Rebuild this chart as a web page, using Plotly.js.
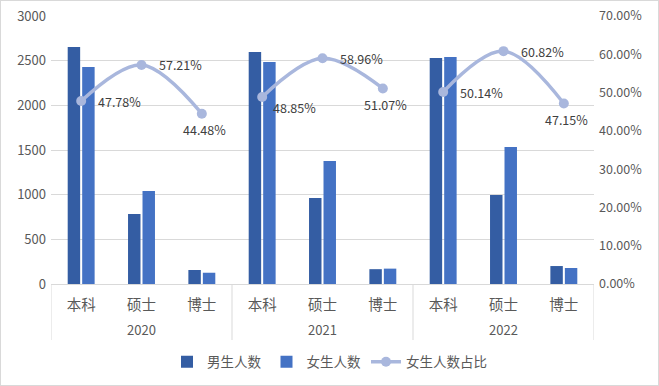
<!DOCTYPE html>
<html>
<head>
<meta charset="utf-8">
<script src="https://cdn.plot.ly/plotly-3.0.1.min.js"></script>
<style>
html,body{margin:0;padding:0;background:#fff;}
#chart{width:659px;height:386px;box-sizing:border-box;border:1px solid #d9d9d9;}
</style>
</head>
<body>
<div id="chart"></div>
<script>
const years = ["2020","2020","2020","2021","2021","2021","2022","2022","2022"];
const levels = ["本科","硕士","博士","本科","硕士","博士","本科","硕士","博士"];
const male = [2653, 784, 157, 2597, 963, 166, 2530, 996, 201];
const female = [2429, 1041, 126, 2485, 1377, 172, 2541, 1534, 179];
const femaleShare = [0.4778, 0.5721, 0.4448, 0.4885, 0.5896, 0.5107, 0.5014, 0.6082, 0.4715];
const shareLabels = ["47.78%","57.21%","44.48%","48.85%","58.96%","51.07%","50.14%","60.82%","47.15%"];
const labelPos = ["right","right","below","belowright","right","below","right","right","below"];

const font = "'Noto Sans CJK SC', 'Liberation Sans', sans-serif";
const idx = levels.map((_, i) => i);
const uniqueYears = [...new Set(years)];

const data = [
  {type:"bar", name:"男生人数", x:idx, y:male, marker:{color:"#345DA3"}},
  {type:"bar", name:"女生人数", x:idx, y:female, marker:{color:"#4472C4"}}
];
uniqueYears.forEach((yr, k) => {
  const ii = idx.filter(i => years[i] === yr);
  data.push({
    type:"scatter", mode:"lines+markers", name:"女生人数占比", legendgroup:"share",
    showlegend: k === 0,
    x: ii, y: ii.map(i => femaleShare[i]), yaxis:"y2",
    line:{color:"#A9B7DD", width:3.5, shape:"spline", smoothing:1},
    marker:{color:"#A9B7DD", size:10},
    cliponaxis:false
  });
});

const posStyle = {
  right:      {xanchor:"left",   yanchor:"middle", xshift:15, yshift:0},
  belowright: {xanchor:"left",   yanchor:"middle", xshift:9,  yshift:-11},
  below:      {xanchor:"center", yanchor:"middle", xshift:3,  yshift:-16}
};
const annotations = idx.map(i => Object.assign({
  x:i, xref:"x", y:femaleShare[i], yref:"y2", text:shareLabels[i], showarrow:false,
  font:{size:12.5, color:"#404040", family:font}
}, posStyle[labelPos[i]]));

uniqueYears.forEach(yr => {
  const ii = idx.filter(i => years[i] === yr);
  const mid = (ii[0] + ii[ii.length-1]) / 2;
  annotations.push({x: mid, xref:"x", y: -0.168, yref:"paper", text: yr, showarrow:false,
          yanchor:"middle", font:{size:13, color:"#595959"}});
});

const bounds = [-0.5];
uniqueYears.forEach(yr => { const ii = idx.filter(i => years[i] === yr); bounds.push(ii[ii.length-1] + 0.5); });
const shapes = bounds.map(b => ({type:"line", xref:"x", yref:"paper", x0:b, x1:b, y0:0, y1:-0.209,
  line:{color:"#d9d9d9", width:1}}));

const layout = {
  width:657, height:384,
  margin:{l:50, r:64, t:15, b:101},
  paper_bgcolor:"#fff", plot_bgcolor:"#fff",
  font:{family:font, size:12.5, color:"#595959"},
  barmode:"group", bargap:0.52, bargroupgap:0.14,
  showlegend:true,
  legend:{orientation:"h", xref:"container", x:0.5, xanchor:"center", yref:"container", y:0.06, yanchor:"middle",
          font:{size:13.5, color:"#595959"}, traceorder:"normal"},
  xaxis:{range:[-0.5, 8.5], tickvals:idx, ticktext:levels, showgrid:false, zeroline:false, showline:true, linecolor:"#d9d9d9",
         ticks:"", ticklabelstandoff:8, tickfont:{size:14.5, color:"#595959"}},
  yaxis:{range:[0,3000], dtick:500, gridcolor:"#d9d9d9", zeroline:false, showline:false, ticks:"", tickfont:{size:13}, ticklabelstandoff:4},
  yaxis2:{overlaying:"y", side:"right", range:[0,0.7], dtick:0.1, tickformat:".2%", showgrid:false, zeroline:false, ticks:"", tickfont:{size:12.5}, ticklabelstandoff:4},
  annotations: annotations,
  shapes: shapes
};

Plotly.newPlot("chart", data, layout, {displayModeBar:false, staticPlot:true});
</script>
</body>
</html>
